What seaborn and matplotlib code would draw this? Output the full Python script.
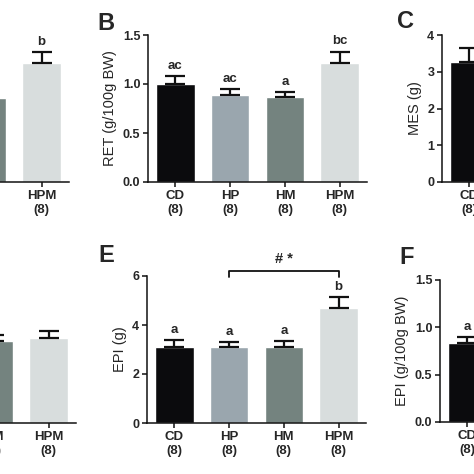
import numpy as np
import pandas as pd
import seaborn as sns
import matplotlib.pyplot as plt

sns.set_style("ticks")
plt.rcParams['font.family'] = ['Liberation Sans', 'DejaVu Sans']

# grupper og farger
groups = ['CD', 'HP', 'HM', 'HPM']
n_labels = ['(8)', '(8)', '(8)', '(8)']
colors = ['#0b0b0d', '#9aa6ae', '#74837f', '#d8dddd']

# A (bare delvis synlig)
a_mean = [np.nan, np.nan, 3.43, 4.86]
a_err = [np.nan, np.nan, np.nan, 0.45]
a_sig = ['', '', '', 'b']

# B: RET (g/100g BW)
b_mean = [1.00, 0.89, 0.87, 1.21]
b_err = [0.08, 0.06, 0.05, 0.12]
b_sig = ['ac', 'ac', 'a', 'bc']

# C: MES (g)
c_mean = [3.27, np.nan, np.nan, np.nan]
c_err = [0.38, np.nan, np.nan, np.nan]
c_sig = ['', '', '', '']

# D (bare delvis synlig)
d_mean = [np.nan, np.nan, 3.35, 3.47]
d_err = [np.nan, np.nan, 0.24, 0.29]
d_sig = ['', '', '', '']

# E: EPI (g)
e_mean = [3.10, 3.12, 3.10, 4.69]
e_err = [0.29, 0.19, 0.25, 0.45]
e_sig = ['a', 'a', 'a', 'b']

# F: EPI (g/100g BW)
f_mean = [0.83, np.nan, np.nan, np.nan]
f_err = [0.07, np.nan, np.nan, np.nan]
f_sig = ['a', '', '', '']

W = H = 474.0
fig = plt.figure(figsize=(4.74, 4.74), dpi=100)


def panel(left_px, top_px, bottom_px, mean, err, sig, ylim, yticks, fmt, ylabel):
    ax = fig.add_axes([left_px / W, 1 - bottom_px / H, 219 / W, (bottom_px - top_px) / H])
    df = pd.DataFrame({'group': groups, 'value': mean})
    sns.barplot(data=df, x='group', y='value', hue='group', order=groups,
                palette=dict(zip(groups, colors)), errorbar=None, legend=False,
                width=0.7, saturation=1, ax=ax)
    x = np.arange(len(groups))
    ax.errorbar(x, mean, yerr=[np.zeros(len(err)), err], fmt='none', ecolor='#111111',
                elinewidth=1.6, capsize=7.2, capthick=1.6)
    for xi, m, e, s in zip(x, mean, err, sig):
        if s:
            ax.annotate(s, (xi, m + e), xytext=(0, 3), textcoords='offset points',
                        ha='center', va='bottom', fontsize=9.5, fontweight='bold')
    ax.set_xlim(-0.5, 3.5)
    ax.set_ylim(*ylim)
    ax.set_yticks(yticks)
    if ylabel:
        ax.set_yticklabels([fmt.format(t) for t in yticks], fontsize=9, fontweight='bold')
    else:
        # y-aksen ligger utenfor bildet
        ax.set_yticklabels([''] * len(yticks))
    ax.set_xticks(x)
    ax.set_xticklabels([g + '\n' + n for g, n in zip(groups, n_labels)],
                       fontsize=9.5, fontweight='bold', linespacing=1.25)
    ax.set_xlabel('')
    ax.set_ylabel(ylabel, fontsize=10.5)
    for sp in ['left', 'bottom']:
        ax.spines[sp].set_linewidth(1.1)
        ax.spines[sp].set_color('#111111')
    sns.despine(ax=ax)
    ax.tick_params(width=1.1, length=3.5, color='#111111', pad=2)
    return ax


panel(-150, 35, 182, a_mean, a_err, a_sig, (0, 6), [0, 2, 4, 6], '{:.0f}', '')
panel(148, 35, 182, b_mean, b_err, b_sig, (0, 1.5), [0, 0.5, 1.0, 1.5], '{:.1f}', 'RET (g/100g BW)')
panel(442, 35, 182, c_mean, c_err, c_sig, (0, 4), [0, 1, 2, 3, 4], '{:.0f}', 'MES (g)')
panel(-143, 276, 423, d_mean, d_err, d_sig, (0, 6), [0, 2, 4, 6], '{:.0f}', '')
ax_e = panel(147, 276, 423, e_mean, e_err, e_sig, (0, 6), [0, 2, 4, 6], '{:.0f}', 'EPI (g)')
panel(440, 280, 422, f_mean, f_err, f_sig, (0, 1.5), [0, 0.5, 1.0, 1.5], '{:.1f}', 'EPI (g/100g BW)')

# signifikans-klamme i E (HP mot HPM)
ax_e.plot([1, 1, 3, 3], [5.95, 6.2, 6.2, 5.95], color='#111111', lw=1.3, clip_on=False)
ax_e.text(2, 6.4, '# *', ha='center', va='bottom', fontsize=10.5, fontweight='bold')

# panelbokstaver
for letter, px, py in [('B', 106, 24), ('C', 405, 21), ('E', 106, 256), ('F', 407, 258)]:
    fig.text(px / W, 1 - py / H, letter, fontsize=17, fontweight='bold', ha='center', va='center')

fig.savefig('out.png', dpi=100)
